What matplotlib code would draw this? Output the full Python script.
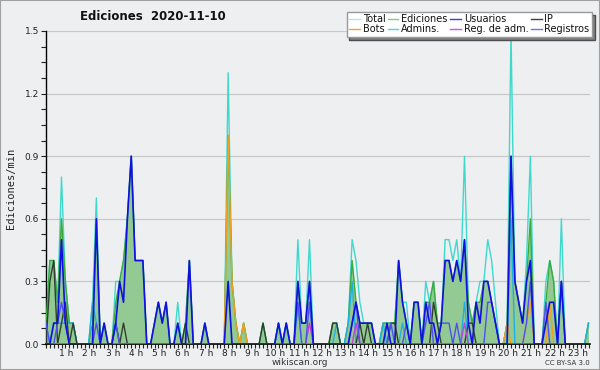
import numpy as np
import matplotlib.pyplot as plt
from matplotlib.lines import Line2D
from matplotlib.patches import Rectangle
import matplotlib.transforms as mtransforms

# Valores por tramos de 10 minutos (ediciones/min), 6 tramos por hora
total = [0.1, 0.4, 0.4, 0.2, 0.8, 0.3,  0.1, 0.1, 0, 0, 0, 0,  0.2, 0.7, 0, 0.1, 0, 0,  0.3, 0.3, 0.4, 0.6, 0.9, 0.4,
         0.4, 0.4, 0, 0, 0.1, 0.2,  0.1, 0.2, 0, 0, 0.2, 0,  0.1, 0.4, 0, 0, 0, 0.1,  0, 0, 0, 0, 0, 1.3,
         0.3, 0.1, 0, 0.1, 0, 0,  0, 0, 0.1, 0, 0, 0,  0.1, 0, 0.1, 0, 0, 0.5,  0.1, 0.1, 0.5, 0, 0, 0,
         0, 0, 0.1, 0.1, 0, 0,  0.1, 0.5, 0.4, 0.2, 0.1, 0.1,  0.1, 0, 0, 0.1, 0.1, 0.1,  0.1, 0.4, 0.2, 0.2, 0, 0.2,
         0.2, 0, 0.3, 0.2, 0.3, 0.1,  0.1, 0.5, 0.5, 0.4, 0.5, 0.3,  0.9, 0.2, 0.1, 0.2, 0.3, 0.3,  0.5, 0.4, 0.2, 0, 0, 0.1,
         1.5, 0.3, 0.2, 0.1, 0.4, 0.9,  0, 0, 0, 0.3, 0.4, 0.3,  0, 0.6, 0, 0, 0, 0,  0, 0, 0.1]
ediciones = [0.1, 0.4, 0.4, 0.2, 0.6, 0.3,  0.1, 0.1, 0, 0, 0, 0,  0.1, 0.6, 0, 0.1, 0, 0,  0.2, 0.3, 0.4, 0.6, 0.9, 0.4,
             0.4, 0.4, 0, 0, 0.1, 0.2,  0.1, 0.2, 0, 0, 0.1, 0,  0.1, 0.4, 0, 0, 0, 0.1,  0, 0, 0, 0, 0, 1.0,
             0.3, 0.1, 0, 0.1, 0, 0,  0, 0, 0.1, 0, 0, 0,  0.1, 0, 0.1, 0, 0, 0.3,  0.1, 0.1, 0.3, 0, 0, 0,
             0, 0, 0.1, 0.1, 0, 0,  0.1, 0.4, 0.2, 0.1, 0.1, 0.1,  0.1, 0, 0, 0.1, 0.1, 0.1,  0.1, 0.4, 0.2, 0.1, 0, 0.2,
             0.2, 0, 0.2, 0.2, 0.3, 0.1,  0.1, 0.4, 0.4, 0.3, 0.4, 0.3,  0.5, 0.2, 0.1, 0.2, 0.2, 0.3,  0.3, 0.2, 0.1, 0, 0, 0.1,
             0.9, 0.3, 0.2, 0.1, 0.3, 0.6,  0, 0, 0, 0.2, 0.4, 0.3,  0, 0.3, 0, 0, 0, 0,  0, 0, 0.1]
usuarios = [0, 0, 0.1, 0.1, 0.5, 0.1,  0, 0, 0, 0, 0, 0,  0, 0.6, 0, 0.1, 0, 0,  0.1, 0.3, 0.2, 0.6, 0.9, 0.4,
            0.4, 0.4, 0, 0, 0.1, 0.2,  0.1, 0.2, 0, 0, 0.1, 0,  0, 0.4, 0, 0, 0, 0.1,  0, 0, 0, 0, 0, 0.3,
            0, 0, 0, 0, 0, 0,  0, 0, 0, 0, 0, 0,  0.1, 0, 0.1, 0, 0, 0.3,  0.1, 0.1, 0.3, 0, 0, 0,
            0, 0, 0, 0, 0, 0,  0, 0.1, 0.2, 0.1, 0.1, 0.1,  0.1, 0, 0, 0, 0.1, 0,  0, 0.4, 0.2, 0.1, 0, 0.2,
            0.2, 0, 0.2, 0.1, 0.1, 0,  0.1, 0.4, 0.4, 0.3, 0.4, 0.3,  0.5, 0.1, 0, 0.2, 0.1, 0.3,  0.3, 0.2, 0.1, 0, 0, 0,
            0.9, 0.3, 0.2, 0.1, 0.3, 0.4,  0, 0, 0, 0.1, 0.2, 0.2,  0, 0.3, 0, 0, 0, 0,  0, 0, 0]
ip = [0, 0.3, 0.4, 0, 0.1, 0.2,  0, 0.1, 0, 0, 0, 0,  0, 0, 0, 0, 0, 0,  0.1, 0, 0.1, 0, 0, 0,
      0, 0, 0, 0, 0, 0,  0, 0, 0, 0, 0, 0,  0.1, 0, 0, 0, 0, 0,  0, 0, 0, 0, 0, 0,
      0, 0, 0, 0, 0, 0,  0, 0, 0.1, 0, 0, 0,  0, 0, 0, 0, 0, 0,  0, 0, 0, 0, 0, 0,
      0, 0, 0.1, 0.1, 0, 0,  0, 0, 0, 0.1, 0, 0.1,  0, 0, 0, 0, 0, 0.1,  0.1, 0, 0, 0, 0, 0,
      0, 0, 0, 0, 0.2, 0.1,  0, 0, 0, 0, 0, 0,  0, 0.1, 0.1, 0, 0, 0,  0, 0, 0, 0, 0, 0,
      0, 0, 0, 0, 0, 0,  0, 0, 0, 0, 0, 0,  0, 0, 0, 0, 0, 0,  0, 0, 0]
bots = [0, 0, 0, 0, 0, 0,  0, 0, 0, 0, 0, 0,  0, 0, 0, 0, 0, 0,  0, 0, 0, 0, 0, 0,
        0, 0, 0, 0, 0, 0,  0, 0, 0, 0, 0, 0,  0, 0, 0, 0, 0, 0,  0, 0, 0, 0, 0, 1.0,
        0.3, 0.1, 0, 0.1, 0, 0,  0, 0, 0, 0, 0, 0,  0, 0, 0, 0, 0, 0,  0, 0, 0, 0, 0, 0,
        0, 0, 0, 0, 0, 0,  0, 0, 0, 0, 0, 0,  0, 0, 0, 0, 0, 0,  0, 0, 0, 0, 0, 0,
        0, 0, 0, 0, 0, 0,  0, 0, 0, 0, 0, 0,  0, 0, 0, 0, 0, 0,  0, 0, 0, 0, 0, 0.1,
        0, 0, 0, 0, 0.1, 0.2,  0, 0, 0, 0, 0.2, 0,  0, 0, 0, 0, 0, 0,  0, 0, 0]
admins = [0.1, 0, 0.1, 0.1, 0.1, 0.1,  0.1, 0.1, 0, 0, 0, 0,  0.2, 0.1, 0, 0, 0, 0,  0.1, 0, 0, 0, 0, 0,
          0, 0, 0, 0, 0, 0,  0, 0, 0, 0, 0, 0,  0, 0, 0, 0, 0, 0,  0, 0, 0, 0, 0, 0,
          0, 0, 0, 0, 0, 0,  0, 0, 0, 0, 0, 0,  0.1, 0, 0.1, 0, 0, 0.2,  0, 0, 0, 0, 0, 0,
          0, 0, 0, 0.1, 0, 0,  0.1, 0.3, 0, 0, 0, 0,  0, 0, 0, 0.1, 0, 0,  0, 0, 0.1, 0, 0, 0,
          0, 0, 0, 0, 0, 0,  0, 0, 0, 0, 0, 0,  0.2, 0, 0, 0, 0, 0,  0, 0, 0, 0, 0, 0,
          0.6, 0, 0, 0, 0, 0,  0, 0, 0, 0, 0, 0,  0, 0, 0, 0, 0, 0,  0, 0, 0.1]
reg_adm = [0, 0, 0, 0, 0, 0,  0, 0, 0, 0, 0, 0,  0, 0, 0, 0, 0, 0,  0, 0, 0, 0, 0, 0,
           0, 0, 0, 0, 0, 0,  0, 0, 0, 0, 0, 0,  0, 0, 0, 0, 0, 0,  0, 0, 0, 0, 0, 0,
           0, 0, 0, 0, 0, 0,  0, 0, 0, 0, 0, 0,  0, 0, 0, 0, 0, 0,  0, 0, 0.1, 0, 0, 0,
           0, 0, 0, 0, 0, 0,  0, 0, 0.1, 0, 0, 0,  0, 0, 0, 0, 0, 0,  0, 0, 0, 0, 0, 0,
           0, 0, 0, 0, 0, 0,  0, 0, 0, 0, 0, 0,  0.1, 0, 0, 0, 0, 0,  0, 0, 0, 0, 0, 0,
           0, 0, 0, 0, 0, 0,  0, 0, 0, 0, 0, 0,  0, 0, 0, 0, 0, 0,  0, 0, 0]
registros = [0.1, 0, 0, 0.1, 0.2, 0.1,  0, 0, 0, 0, 0, 0,  0, 0.1, 0, 0, 0, 0,  0.1, 0, 0, 0, 0, 0,
             0, 0, 0, 0, 0, 0,  0, 0, 0, 0, 0, 0,  0, 0, 0, 0, 0, 0,  0, 0, 0, 0, 0, 0,
             0, 0, 0, 0, 0, 0,  0, 0, 0, 0, 0, 0,  0, 0, 0, 0, 0, 0.2,  0, 0, 0.2, 0, 0, 0,
             0, 0, 0, 0, 0, 0,  0, 0.1, 0.2, 0, 0, 0,  0, 0, 0, 0, 0, 0.1,  0, 0, 0, 0.1, 0, 0,
             0, 0, 0.1, 0.2, 0, 0,  0.1, 0.1, 0.1, 0, 0.1, 0,  0, 0, 0, 0, 0, 0,  0.2, 0.2, 0.1, 0, 0, 0,
             0, 0, 0, 0, 0.1, 0.3,  0, 0, 0, 0.2, 0, 0,  0, 0.3, 0, 0, 0, 0,  0, 0, 0]

horas = [f"{h} h" for h in range(1, 24)]

x = np.arange(len(total)) / 6.0

bg = '#eeeff1'
fig = plt.figure(figsize=(6, 3.7), dpi=100, facecolor=bg)
ax = fig.add_axes([46 / 600, 26 / 370, 544 / 600, 313 / 370], facecolor=bg)

ax.fill_between(x, ediciones, color='#93c993', lw=0, zorder=1)
ax.plot(x, total, color='#3fd9cc', lw=1.0, zorder=2)
ax.plot(x, ediciones, color='#3caa3c', lw=1.0, zorder=3)
ax.plot(x, admins, color='#20b0e0', lw=1.0, zorder=3)
ax.plot(x, ip, color='#2f3f2f', lw=1.0, zorder=3)
ax.plot(x, bots, color='#f0a020', lw=1.0, zorder=3)
ax.plot(x, reg_adm, color='#c040e0', lw=1.0, zorder=3)
ax.plot(x, registros, color='#5050f0', lw=1.0, zorder=4)
ax.plot(x, usuarios, color='#1010e0', lw=1.2, zorder=5)

ax.set_xlim(0, 544 / 23.25)
ax.set_ylim(0, 1.5)
ax.set_yticks([0, 0.3, 0.6, 0.9, 1.2, 1.5])
ax.set_yticklabels(['0.0', '0.3', '0.6', '0.9', '1.2', '1.5'])
ax.set_yticks(np.arange(0, 1.5, 0.075), minor=True)
ax.set_xticks(range(1, 24))
ax.set_xticklabels(horas)
ax.set_xticks(np.arange(0, 23.5, 1 / 6), minor=True)
ax.tick_params(axis='both', which='both', direction='out', length=3.5, width=0.8,
               labelsize=6.5, colors='#222222', pad=1.5)
ax.tick_params(axis='x', which='both', length=3, pad=0.5)
off = mtransforms.ScaledTranslation(-3 / 100, 0, fig.dpi_scale_trans)
for lab in ax.get_xticklabels():
    lab.set_transform(lab.get_transform() + off)

ax.grid(axis='y', which='major', color='#c8c8c8', lw=0.9)
ax.set_axisbelow(True)
for s in ['top', 'right']:
    ax.spines[s].set_visible(False)
ax.spines['left'].set_linewidth(1.0)
ax.spines['bottom'].set_linewidth(1.2)

fig.text(153 / 600, 1 - 16 / 370, 'Ediciones  2020-11-10', ha='center', va='center',
         fontsize=8.5, fontweight='bold', color='#111111')
fig.text(11 / 600, 1 - 188 / 370, 'Ediciones/min', rotation=90, ha='center', va='center',
         fontsize=7.5, family='DejaVu Sans Mono', color='#222222')
fig.text(300 / 600, 1 - 362.5 / 370, 'wikiscan.org', ha='center', va='center',
         fontsize=6.5, color='#333333')
fig.text(590 / 600, 1 - 363 / 370, 'CC BY-SA 3.0', ha='right', va='center',
         fontsize=5, color='#333333')

nombres = ['Total', 'Bots', 'Ediciones', 'Admins.', 'Usuarios', 'Reg. de adm.', 'IP', 'Registros']
colores = ['#aee6e6', '#f0a040', '#80d080', '#50d0e0', '#3a3ae6', '#d050e0', '#404040', '#7070e8']
handles = [Line2D([], [], color=c, lw=1.0) for c in colores]
leg = fig.legend(handles, nombres, ncol=4, loc='upper right',
                 bbox_to_anchor=(592 / 600, 1 - 12 / 370), fontsize=7,
                 frameon=True, fancybox=False, framealpha=1, edgecolor='#999999',
                 handlelength=1.1, handletextpad=0.3, columnspacing=0.25,
                 labelspacing=0.0, borderpad=0.25, borderaxespad=0,
                 shadow={'facecolor': '#808080', 'alpha': 1})
for t in leg.get_texts():
    t.set_color('#111111')

fig.add_artist(Rectangle((0, 0), 1, 1, transform=fig.transFigure, fill=False,
                         edgecolor='#a0a0a0', lw=1.5))

fig.savefig('out.png', dpi=100, facecolor=bg)
